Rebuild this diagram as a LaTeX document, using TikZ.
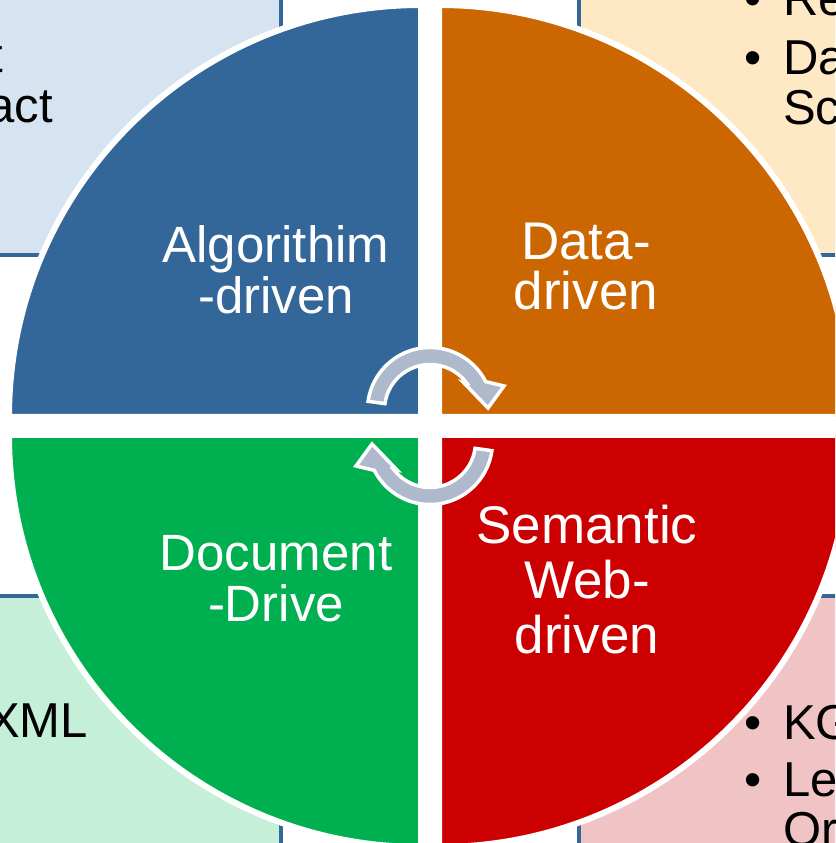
\documentclass[tikz,border=0pt]{standalone}
\usepackage{fontspec}
\setmainfont{Liberation Sans}
\definecolor{algoblue}{RGB}{51,102,153}
\definecolor{dataorange}{RGB}{204,102,0}
\definecolor{docgreen}{RGB}{0,176,80}
\definecolor{semred}{RGB}{204,0,0}
\definecolor{boxblue}{RGB}{214,227,241}
\definecolor{boxorange}{RGB}{255,233,196}
\definecolor{boxgreen}{RGB}{198,239,217}
\definecolor{boxred}{RGB}{240,196,196}
\definecolor{cyclegray}{RGB}{174,185,204}
\tikzset{
  quarter/.style={draw=white,line width=6pt},
  listbox/.style={draw=algoblue,line width=4pt},
  cyclearrow/.style={fill=cyclegray,draw=white,line width=3.5pt,line join=miter},
  whitetext/.style={text=white,inner sep=0pt,align=center},
  blacktext/.style={text=black,inner sep=0pt,font=\fontsize{49}{50}\selectfont}
}
\begin{document}
\begin{tikzpicture}[x=1pt,y=1pt]
\useasboundingbox (0,0) rectangle (835,843);
\clip (0,0) rectangle (835,843);
\fill[white] (0,0) rectangle (835,843);
% boxes behind the circle
\filldraw[listbox,fill=boxblue] (-50,588) rectangle (281,900);
\filldraw[listbox,fill=boxorange] (579,588) rectangle (900,900);
\filldraw[listbox,fill=boxgreen] (-50,247) rectangle (281,-50);
\filldraw[listbox,fill=boxred] (579,247) rectangle (900,-50);
\node[blacktext,anchor=base east] (tlcut) at (3,770) {t};
\node[blacktext,anchor=base east] (tlact) at (53,720) {act};
\node[blacktext,anchor=base west] (trre) at (744,827) {\makebox[39pt][l]{•}Re};
\node[blacktext,anchor=base west] (trda) at (744,768) {\makebox[39pt][l]{•}Da};
\node[blacktext,anchor=base west] (trsc) at (783,718) {Sc};
\node[blacktext,anchor=base east] (blxml) at (88,105) {XML};
\node[blacktext,anchor=base west] (brkg) at (744,103) {\makebox[39pt][l]{•}KG};
\node[blacktext,anchor=base west] (brle) at (744,46) {\makebox[39pt][l]{•}Le};
\node[blacktext,anchor=base west] (bror) at (783,-4) {Or};
% four quarters
\filldraw[quarter,fill=algoblue] (421,426) -- ++(-412,0) arc (180:90:412) -- cycle;
\filldraw[quarter,fill=dataorange] (439,426) -- ++(0,412) arc (90:0:412) -- cycle;
\filldraw[quarter,fill=docgreen] (421,408) -- ++(0,-412) arc (270:180:412) -- cycle;
\filldraw[quarter,fill=semred] (439,408) -- ++(412,0) arc (0:-90:412) -- cycle;
\node[whitetext,anchor=north,font=\fontsize{51}{51}\selectfont] (algo) at (276,618) {Algorithim\\-driven};
\node[whitetext,anchor=north,font=\fontsize{53}{50}\selectfont] (data) at (586,620) {Data-\\driven};
\node[whitetext,anchor=north,font=\fontsize{51}{51}\selectfont] (doc) at (276,308) {Document\\-Drive};
\node[whitetext,anchor=north,font=\fontsize{53}{55}\selectfont] (sem) at (587,338) {Semantic\\Web-\\driven};
% cycle arrows in the middle
\begin{scope}[shift={(430,433)}]
\filldraw[cyclearrow] (172:45.5) arc (172:37:45.5) -- (33,28) -- (58,2) -- (74,24) -- (27:62.5) arc (27:172:62.5) -- cycle;
\end{scope}
\begin{scope}[shift={(430,401)},rotate=180]
\filldraw[cyclearrow] (172:45.5) arc (172:37:45.5) -- (33,28) -- (58,2) -- (74,24) -- (27:62.5) arc (27:172:62.5) -- cycle;
\end{scope}
\end{tikzpicture}
\end{document}
